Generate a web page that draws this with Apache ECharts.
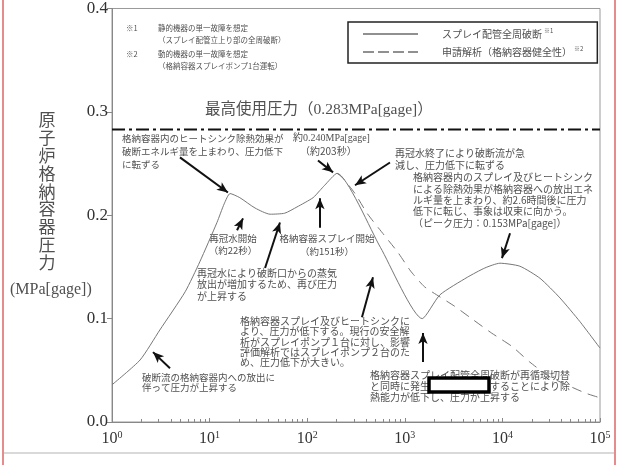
<!DOCTYPE html>
<html lang="ja">
<head>
<meta charset="UTF-8">
<title>原子炉格納容器圧力</title>
<script src="https://cdn.jsdelivr.net/npm/echarts@6/dist/echarts.min.js"></script>
<style>
  html, body { margin: 0; padding: 0; background: #fff; }
  #chart { width: 619px; height: 465px; }
</style>
</head>
<body>
<div id="chart"></div>
<script>
// スプレイ配管全周破断 (時間[s], 圧力[MPa gage])
var solidTime = [1, 1.94, 3.09, 5.62, 7.94, 11.9, 14.1, 16.2, 20.4, 29.2, 41.7, 58.9, 78.5, 115, 135, 151, 202,
                 562, 1510, 2290, 4370, 6610, 9440, 15100, 24300, 38900, 62400, 100000];
var solidPres = [0.036, 0.060, 0.089, 0.126, 0.155, 0.193, 0.211, 0.221, 0.217, 0.207, 0.201, 0.202, 0.208, 0.217, 0.224, 0.229, 0.2406,
                 0.169, 0.100, 0.123, 0.140, 0.149, 0.1536, 0.1507, 0.139, 0.120, 0.097, 0.0715];

// 申請解析（格納容器健全性）
var dashTime = [202, 228, 309, 410, 612, 851, 1148, 1585, 2291, 3236, 4677, 7762, 12589, 19055, 30903, 70795, 95500];
var dashPres = [0.2406, 0.2367, 0.221, 0.202, 0.181, 0.164, 0.146, 0.131, 0.121, 0.112, 0.101, 0.086, 0.073, 0.058, 0.0435, 0.028, 0.024];

// 最高使用圧力
var maxPressure = 0.283;
var timeRange = [1, 100000];
var yTicks = [0, 0.1, 0.2, 0.3, 0.4];

// 注記の矢印 [始点時間, 始点圧力, 終点時間, 終点圧力]
var arrows = [
  [4.97, 0.256, 15.4, 0.222],
  [129, 0.253, 184, 0.2415],
  [705, 0.251, 309, 0.229],
  [11970, 0.1826, 9900, 0.1585],
  [19.1, 0.1855, 22, 0.197],
  [135, 0.188, 135, 0.2164],
  [37, 0.149, 52.6, 0.193],
  [364, 0.1014, 472, 0.140],
  [1536, 0.058, 1536, 0.086],
  [3.93, 0.052, 2.63, 0.0676]
];

var SANS = "'Noto Sans CJK JP', 'Noto Sans', sans-serif";
var SERIF = "'Liberation Serif', 'DejaVu Serif', 'Noto Sans CJK JP', serif";
var TXT = '#505050';

function pairs(xs, ys) {
  return xs.map(function (x, i) { return [x, ys[i]]; });
}

// x, y = テキストの基準点（alignに応じて左端/中央）と上端
function note(x, y, text, size, lh, align, font) {
  return {
    type: 'text', x: x, y: y, silent: true,
    style: {
      text: text, fill: TXT, fontSize: size, lineHeight: lh,
      fontFamily: font || SANS, align: align || 'left', verticalAlign: 'top'
    }
  };
}

var chart = echarts.init(document.getElementById('chart'));

var option = {
  animation: false,
  backgroundColor: '#fff',
  grid: { left: 112, top: 8, right: 19, bottom: 43, show: true, borderColor: '#999', borderWidth: 1 },
  legend: {
    left: 348, top: 22, orient: 'vertical',
    padding: [6, 14, 6, 15], itemGap: 7,
    itemWidth: 55, itemHeight: 1.5,
    borderColor: '#222', borderWidth: 1.5,
    itemStyle: { color: '#222' },
    textStyle: {
      fontSize: 10, color: TXT, fontFamily: SANS, padding: [0, 0, 0, 19],
      rich: {
        a: { fontSize: 10, color: TXT, fontFamily: SANS },
        s: { fontSize: 6, color: TXT, fontFamily: SANS, verticalAlign: 'top', padding: [0, 0, 6, 2] }
      }
    },
    formatter: function (name) {
      return '{a|' + name + '}{s|' + (name.indexOf('申請') === 0 ? '※2' : '※1') + '}';
    },
    data: [
      { name: 'スプレイ配管全周破断', icon: 'path://M0,0H55V1H0Z' },
      { name: '申請解析（格納容器健全性）', icon: 'path://M0,0H11V1H0Z M15,0H26V1H15Z M30,0H41V1H30Z M45,0H55V1H45Z' }
    ]
  },
  xAxis: {
    type: 'log', logBase: 10, min: timeRange[0], max: timeRange[1],
    axisLine: { lineStyle: { color: '#888' } },
    axisTick: { show: true, inside: true, length: 4, lineStyle: { color: '#888' } },
    minorTick: { show: true, splitNumber: 9, length: 3, lineStyle: { color: '#888' } },
    splitLine: { show: false },
    axisLabel: {
      margin: 8, showMinLabel: true, showMaxLabel: true,
      formatter: function (v) {
        return '{b|10}{s|' + Math.round(Math.log10(v)) + '}';
      },
      rich: {
        b: { fontSize: 16, color: '#333', fontFamily: SERIF },
        s: { fontSize: 10, color: '#333', fontFamily: SERIF, verticalAlign: 'top', padding: [0, 0, 8, 0] }
      }
    }
  },
  yAxis: {
    type: 'value', min: yTicks[0], max: yTicks[yTicks.length - 1], interval: 0.1,
    axisLine: { show: true, lineStyle: { color: '#888' } },
    axisTick: { show: true, length: 5, lineStyle: { color: '#888' } },
    splitLine: { show: false },
    axisLabel: {
      margin: 4, fontSize: 17, color: '#333', fontFamily: SERIF,
      formatter: function (v) { return v.toFixed(1); }
    }
  },
  series: [
    {
      name: 'スプレイ配管全周破断', type: 'line', symbol: 'none', smooth: 0.2,
      lineStyle: { color: '#777', width: 1 },
      itemStyle: { color: '#777' },
      data: pairs(solidTime, solidPres),
      markLine: {
        silent: true, symbol: ['none', 'arrow'], symbolSize: [7, 11],
        label: { show: false },
        lineStyle: { color: '#111', width: 2, type: 'solid' },
        data: arrows.map(function (a) {
          return [{ coord: [a[0], a[1]] }, { coord: [a[2], a[3]] }];
        })
      }
    },
    {
      name: '申請解析（格納容器健全性）', type: 'line', symbol: 'none', smooth: 0.2,
      lineStyle: { color: '#777', width: 1, type: [10, 7] },
      itemStyle: { color: '#777' },
      data: pairs(dashTime, dashPres)
    },
    {
      name: '最高使用圧力', type: 'line', symbol: 'none', silent: true,
      lineStyle: { color: '#111', width: 2, type: [13, 4, 3, 4] },
      data: timeRange.map(function (t) { return [t, maxPressure]; })
    }
  ],
  graphic: [
    // 枠
    { type: 'line', silent: true, shape: { x1: 3, y1: 0, x2: 3, y2: 465 }, style: { stroke: '#d66', lineWidth: 1.5 } },
    { type: 'line', silent: true, shape: { x1: 615, y1: 0, x2: 615, y2: 465 }, style: { stroke: '#d66', lineWidth: 1.5 } },
    { type: 'line', silent: true, shape: { x1: 4, y1: 453, x2: 614, y2: 453 }, style: { stroke: '#ccc', lineWidth: 1.5 } },

    // 縦軸名
    note(47, 111, '原\n子\n炉\n格\n納\n容\n器\n圧\n力', 17, 17.8, 'center'),
    note(10, 281, '(MPa[gage])', 16, 18, 'left', SERIF),

    // 注記
    note(126, 23, '※1', 7.5, 10),
    note(158, 23, '静的機器の単一故障を想定', 7.5, 10),
    note(158, 35, '（スプレイ配管立上り部の全周破断）', 7.5, 10),
    note(126, 49, '※2', 7.5, 10),
    note(158, 49, '動的機器の単一故障を想定', 7.5, 10),
    note(158, 61, '（格納容器スプレイポンプ1台運転）', 7.5, 10),

    note(205, 101, '最高使用圧力（0.283MPa[gage]）', 15.5, 18, 'left', SERIF),

    note(122, 132, '格納容器内のヒートシンク除熱効果が\n破断エネルギ量を上まわり、圧力低下\nに転ずる', 9.5, 13),
    note(293, 132, '約0.240MPa[gage]', 10, 13, 'left', SERIF),
    note(300, 145, '（約203秒）', 10, 13),
    note(395, 147, '再冠水終了により破断流が急\n減し、圧力低下に転ずる', 10, 12),
    note(413, 172, '格納容器内のスプレイ及びヒートシンク\nによる除熱効果が格納容器への放出エネ\nルギ量を上まわり、約2.6時間後に圧力\n低下に転じ、事象は収束に向かう。\n（ピーク圧力：0.153MPa[gage]）', 10, 11.3),
    note(233, 232, '再冠水開始\n（約22秒）', 9.5, 12, 'center'),
    note(327, 232, '格納容器スプレイ開始\n（約151秒）', 9.5, 13, 'center'),
    note(197, 267, '再冠水により破断口からの蒸気\n放出が増加するため、再び圧力\nが上昇する', 10, 11.5),
    note(240, 316, '格納容器スプレイ及びヒートシンクに\nより、圧力が低下する。現行の安全解\n析がスプレイポンプ１台に対し、影響\n評価解析ではスプレイポンプ２台のた\nめ、圧力低下が大きい。', 10, 10.3),
    note(370, 370, '格納容器スプレイ配管全周破断が再循環切替\nと同時に発生　　　　　　することにより除\n熱能力が低下し、圧力が上昇する', 10, 11),
    note(142, 372, '破断流の格納容器内への放出に\n伴って圧力が上昇する', 9.5, 10.5),

    // 黒枠
    { type: 'rect', silent: true, shape: { x: 429, y: 378, width: 60, height: 14 },
      style: { fill: '#fff', stroke: '#000', lineWidth: 3.5 } }
  ]
};

chart.setOption(option);
</script>
</body>
</html>
